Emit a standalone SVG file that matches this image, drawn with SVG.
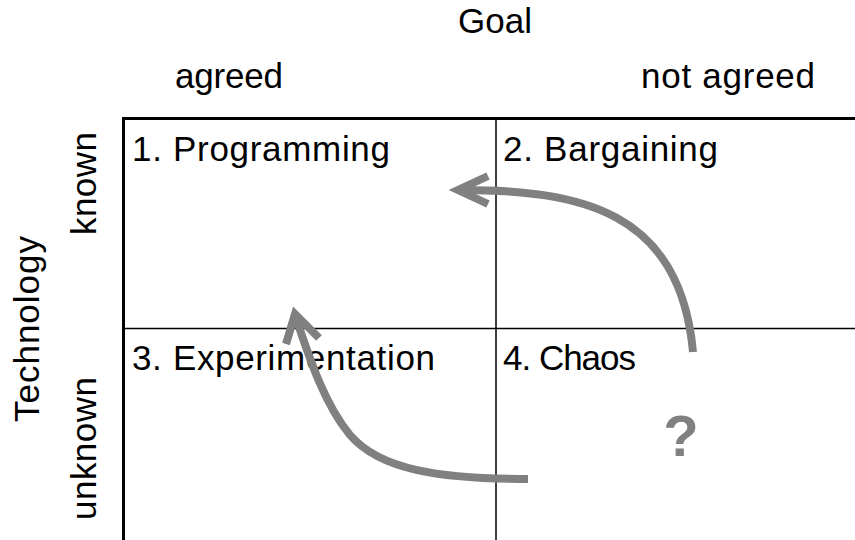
<svg xmlns="http://www.w3.org/2000/svg" width="855" height="540" viewBox="0 0 855 540">
<style>
.t{font-family:"Liberation Sans",Arial,sans-serif;font-size:35px;fill:#000}
.arr{fill:none;stroke:#808080;stroke-width:8;stroke-linejoin:miter}
.grid{stroke:#000;fill:none}
</style>
<rect width="855" height="540" fill="#fff"/>
<g id="grid">
<line class="grid" x1="122" y1="118.5" x2="855" y2="118.5" stroke-width="3"/>
<line class="grid" x1="123.5" y1="117" x2="123.5" y2="540" stroke-width="3"/>
<line class="grid" x1="496" y1="118" x2="496" y2="540" stroke-width="1.5"/>
<line class="grid" x1="123" y1="328.5" x2="855" y2="328.5" stroke-width="1.6"/>
</g>
<g id="axis-goal">
<text class="t" x="458" y="33" textLength="74" lengthAdjust="spacing">Goal</text>
<text class="t" x="175" y="88" textLength="108" lengthAdjust="spacing">agreed</text>
<text class="t" x="641" y="88" textLength="174" lengthAdjust="spacing">not agreed</text>
</g>
<g id="axis-tech">
<text class="t" transform="translate(39,422) rotate(-90)" textLength="186" lengthAdjust="spacing">Technology</text>
<text class="t" transform="translate(96,235) rotate(-90)" textLength="103" lengthAdjust="spacing">known</text>
<text class="t" transform="translate(96,520) rotate(-90)" textLength="143" lengthAdjust="spacing">unknown</text>
</g>
<g id="q1"><text class="t" x="132" y="161" textLength="258" lengthAdjust="spacing">1. Programming</text></g>
<g id="q2"><text class="t" x="503" y="161" textLength="215" lengthAdjust="spacing">2. Bargaining</text></g>
<g id="q3"><text class="t" x="132" y="370" textLength="303" lengthAdjust="spacing">3. Experimentation</text></g>
<g id="q4"><text class="t" x="503" y="370" textLength="133" lengthAdjust="spacing">4. Chaos</text>
<text x="681" y="456" text-anchor="middle" style="font-family:'Liberation Sans',Arial,sans-serif;font-size:58px;font-weight:bold;fill:#808080">?</text></g>
<g id="connectors">
<path class="arr" d="M693,352 C680,210 580,190 460,190"/>
<path class="arr" d="M488,176 L458,190 L488,204"/>
<path class="arr" d="M528,479 C440,479 380,470 350,435 C325,405 310,360 296,318"/>
<path class="arr" d="M286,344 L295,314 L319,338"/>
</g>
</svg>
